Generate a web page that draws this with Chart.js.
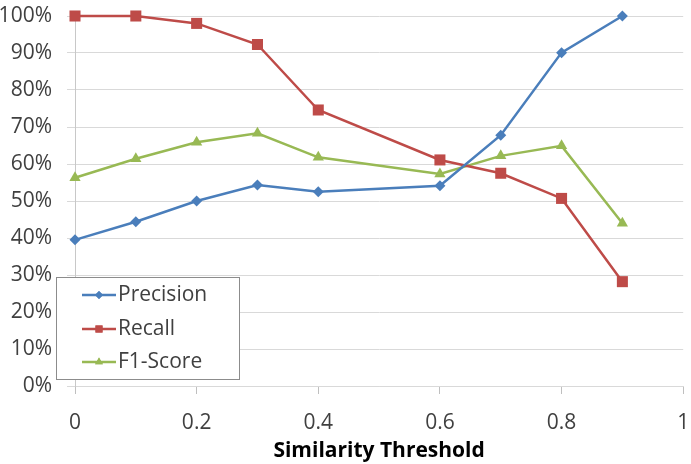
<!DOCTYPE html>
<html>
<head>
<meta charset="utf-8">
<script src="https://cdn.jsdelivr.net/npm/chart.js@4"></script>
<style>
  html, body { margin: 0; padding: 0; background: #fff; }
  #wrap { width: 691px; height: 464px; position: relative; }
</style>
</head>
<body>
<div id="wrap"><canvas id="c" width="691" height="464"></canvas></div>
<script>
const thresholds = [0, 0.1, 0.2, 0.3, 0.4, 0.6, 0.7, 0.8, 0.9];
const precision  = [39.5, 44.4, 50.0, 54.3, 52.5, 54.1, 67.8, 90.1, 100];
const recall     = [100, 100, 98.0, 92.3, 74.6, 61.1, 57.5, 50.7, 28.2];
const f1Score    = [56.3, 61.4, 65.9, 68.3, 61.8, 57.3, 62.2, 64.9, 44.0];
const seriesNames = ['Precision', 'Recall', 'F1-Score'];
const xTicks = [0, 0.2, 0.4, 0.6, 0.8, 1];

const FONT = "'Open Sans', 'DejaVu Sans', sans-serif";
const TEXT = '#404040';

function pts(vals) { return thresholds.map((t, i) => ({ x: t, y: vals[i] })); }

const colors = ['#4A7EBB', '#BE4B48', '#98B954'];
const shapes = ['rectRot', 'rect', 'triangle'];
const radii = [5.5, 7.8, 6.5];
const values = [precision, recall, f1Score];

const datasets = seriesNames.map((name, k) => ({
  label: name,
  data: pts(values[k]),
  borderColor: colors[k],
  backgroundColor: colors[k],
  borderWidth: 2.5,
  pointStyle: shapes[k],
  pointRadius: radii[k],
  pointBorderWidth: 0,
  pointHoverRadius: radii[k],
  tension: 0,
  fill: false,
  clip: false
}));

const legendBox = {
  id: 'legendBox',
  afterDatasetsDraw(chart) {
    const ctx = chart.ctx;
    const x0 = 56, y0 = 277, w = 183, h = 102;
    ctx.save();
    ctx.fillStyle = '#fff';
    ctx.fillRect(x0, y0, w, h);
    ctx.strokeStyle = '#8C8C8C';
    ctx.lineWidth = 1;
    ctx.strokeRect(x0 + 0.5, y0 + 0.5, w, h);
    const rows = [295, 329, 362];
    const legendR = [4, 5, 4.5];
    chart.data.datasets.forEach((ds, i) => {
      const y = rows[i];
      ctx.strokeStyle = ds.borderColor;
      ctx.lineWidth = 2.5;
      ctx.beginPath();
      ctx.moveTo(82, y);
      ctx.lineTo(116, y);
      ctx.stroke();
      ctx.fillStyle = ds.backgroundColor;
      Chart.helpers.drawPoint(ctx, { pointStyle: ds.pointStyle, radius: legendR[i], rotation: 0, borderWidth: 0 }, 99, y);
      ctx.fill();
      ctx.fillStyle = TEXT;
      ctx.font = "21px " + FONT;
      ctx.textBaseline = 'middle';
      ctx.textAlign = 'left';
      ctx.fillText(ds.label, 118, y);
    });
    ctx.restore();
  }
};

new Chart(document.getElementById('c'), {
  type: 'line',
  data: { datasets },
  plugins: [legendBox],
  options: {
    responsive: false,
    animation: false,
    events: [],
    layout: { padding: { top: 16, right: 4, bottom: 0, left: 0 } },
    plugins: { legend: { display: false }, tooltip: { enabled: false } },
    scales: {
      x: {
        type: 'linear',
        min: 0, max: 1,
        afterBuildTicks(scale) { scale.ticks = xTicks.map(v => ({ value: v })); },
        afterFit(scale) { scale.paddingLeft = 0; scale.paddingRight = 0; scale.height = 78; },
        grid: { display: true, drawOnChartArea: false, drawTicks: true, tickLength: 8, color: '#BFBFBF' },
        border: { display: true, color: '#D9D9D9' },
        ticks: {
          padding: 16,
          color: TEXT,
          font: { family: FONT, size: 21 },
          maxRotation: 0,
          callback: v => String(v)
        },
        title: {
          display: true,
          text: 'Similarity Threshold',
          color: '#000',
          font: { family: FONT, size: 21, weight: 'bold' },
          padding: { top: -1, bottom: 0 }
        }
      },
      y: {
        min: 0, max: 100,
        afterFit(scale) { scale.width = 75; scale.paddingTop = 0; scale.paddingBottom = 0; },
        ticks: {
          stepSize: 10,
          padding: 15,
          color: TEXT,
          font: { family: FONT, size: 21 },
          callback: v => v + '%'
        },
        grid: { color: '#D9D9D9', lineWidth: 1, tickLength: 8 },
        border: { display: true, color: '#C8C8C8' }
      }
    }
  }
});
</script>
</body>
</html>
